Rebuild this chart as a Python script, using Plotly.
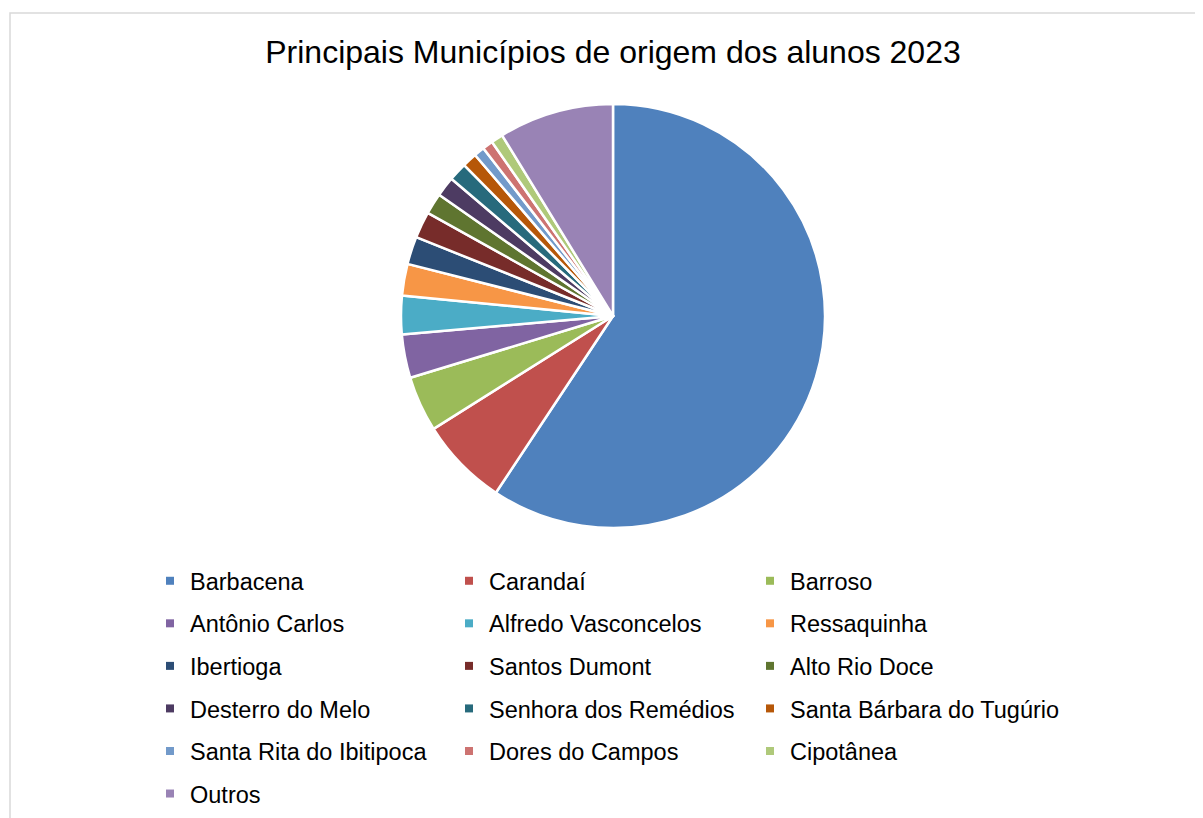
import plotly.graph_objects as go

municipios = ["Barbacena", "Carandaí", "Barroso", "Antônio Carlos", "Alfredo Vasconcelos",
              "Ressaquinha", "Ibertioga", "Santos Dumont", "Alto Rio Doce", "Desterro do Melo",
              "Senhora dos Remédios", "Santa Bárbara do Tugúrio", "Santa Rita do Ibitipoca",
              "Dores do Campos", "Cipotânea", "Outros"]
percentuais = [58.9, 6.7, 4.2, 3.3, 2.9, 2.4, 2.1, 2.0, 1.6, 1.5, 1.4, 1.1, 0.8, 0.8, 0.9, 8.7]
cores = ["#4F81BD", "#C0504D", "#9BBB59", "#8064A2", "#4BACC6", "#F79646", "#2C4D75",
         "#772C2A", "#5F7530", "#4D3B62", "#276A7C", "#B65708", "#729ACA", "#CD7371",
         "#AFC97A", "#9983B5"]

W, H = 1195, 810
T, B = 96, 290
PH = H - T - B

fig = go.Figure()
fig.add_trace(go.Pie(
    labels=municipios, values=percentuais, sort=False, direction="clockwise", rotation=0,
    marker=dict(colors=cores, line=dict(color="white", width=2.5)),
    textinfo="none", hoverinfo="label+percent", showlegend=False,
    domain=dict(x=[605 / W - 0.3, 605 / W + 0.3], y=[0, 1]),
))

# legend: 3 columns, one vertical plotly legend per column
n_cols = 3
col_x = [142, 441, 742]
legend_layouts = {}
for i, (nome, cor) in enumerate(zip(municipios, cores)):
    col = i % n_cols
    key = "legend" if col == 0 else f"legend{col + 1}"
    fig.add_trace(go.Scatter(
        x=[None], y=[None], mode="markers", name=nome, legendgroup=f"g{i}",
        marker=dict(symbol="square", size=8, color=cor),
        legend=key, showlegend=True, hoverinfo="skip"))
    if key not in legend_layouts:
        top = 551
        legend_layouts[key] = dict(
            orientation="v", x=col_x[col] / W, xanchor="left", y=(H - B - top) / PH, yanchor="top",
            traceorder="grouped", tracegroupgap=9,
            font=dict(size=23.5, color="#000000"), itemwidth=30,
            bgcolor="rgba(0,0,0,0)")

fig.update_layout(
    width=W, height=H,
    margin=dict(l=0, r=0, t=T, b=B),
    paper_bgcolor="white", plot_bgcolor="white",
    font=dict(family="Liberation Sans, Arial, sans-serif", color="#000000"),
    title=dict(text="Principais Municípios de origem dos alunos 2023", x=605 / W, xanchor="center",
               y=1 - 44 / H, yanchor="middle", font=dict(size=32, color="#000000")),
    xaxis=dict(visible=False), yaxis=dict(visible=False),
    shapes=[dict(type="rect", xref="paper", yref="paper",
                 x0=2 / W, x1=1.01, y0=-(B + 20) / PH, y1=(PH + T - 5) / PH,
                 line=dict(color="#D9D9D9", width=1.5), fillcolor="rgba(0,0,0,0)", layer="below")],
    **legend_layouts,
)

fig.write_html("out.html")
